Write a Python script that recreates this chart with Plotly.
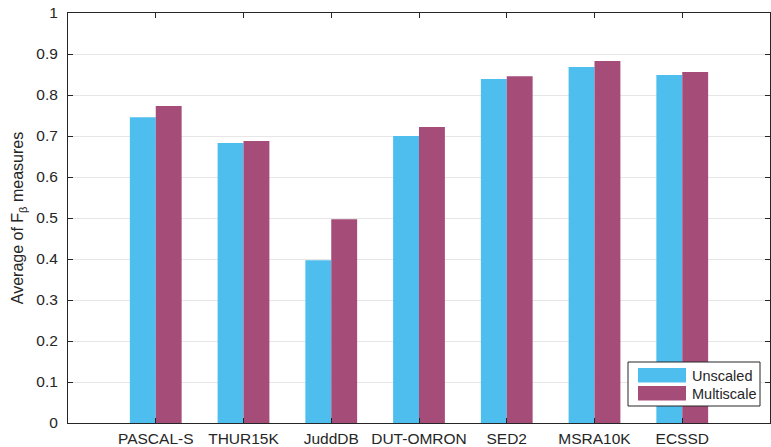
import plotly.graph_objects as go

# Average F-beta per dataset, single-scale vs multi-scale
datasets = ["PASCAL-S", "THUR15K", "JuddDB", "DUT-OMRON", "SED2", "MSRA10K", "ECSSD"]
unscaled = [0.746, 0.683, 0.397, 0.700, 0.839, 0.868, 0.849]
multiscale = [0.773, 0.688, 0.497, 0.722, 0.846, 0.883, 0.856]
series_names = ["Unscaled", "Multiscale"]
y_ticks = [0, 0.1, 0.2, 0.3, 0.4, 0.5, 0.6, 0.7, 0.8, 0.9, 1]
y_tick_text = ["0", "0.1", "0.2", "0.3", "0.4", "0.5", "0.6", "0.7", "0.8", "0.9", "1"]

BLUE = "#4DBEEE"
PLUM = "#A54C78"
INK = "#262626"
FONT = "Liberation Sans, Arial, Helvetica, sans-serif"

positions = list(range(1, len(datasets) + 1))

fig = go.Figure()
fig.add_trace(go.Bar(x=positions, y=unscaled, name=series_names[0],
                     marker=dict(color=BLUE, line=dict(width=0))))
fig.add_trace(go.Bar(x=positions, y=multiscale, name=series_names[1],
                     marker=dict(color=PLUM, line=dict(width=0))))

W, H = 771, 447
L, R, T, B = 68, 1, 13, 24
pw, ph = W - L - R, H - T - B


def px(x):
    return (x - L) / pw


def py(y):
    return (H - B - y) / ph


# Boxed legend with wide colour swatches
fig.add_shape(type="rect", xref="paper", yref="paper",
              x0=px(628), x1=px(760), y0=py(406), y1=py(362),
              line=dict(color=INK, width=1), fillcolor="white", layer="above")
for i, (name, col) in enumerate(zip(series_names, [BLUE, PLUM])):
    top = 368 + i * 18
    fig.add_shape(type="rect", xref="paper", yref="paper",
                  x0=px(638), x1=px(686), y0=py(top + 14.5), y1=py(top),
                  line=dict(width=0), fillcolor=col, layer="above")
    fig.add_annotation(xref="paper", yref="paper", x=px(690), y=py(top + 7.5),
                       text=name, showarrow=False, xanchor="left", yanchor="middle",
                       font=dict(family=FONT, size=14.5, color=INK))

fig.update_layout(
    width=W, height=H,
    margin=dict(l=L, r=R, t=T, b=B, autoexpand=False),
    plot_bgcolor="white", paper_bgcolor="white",
    barmode="group", bargap=0.41, bargroupgap=0,
    showlegend=False,
    font=dict(family=FONT, size=15.5, color=INK),
)
fig.update_xaxes(
    range=[0, 8], tickvals=positions, ticktext=datasets,
    showline=True, linecolor=INK, linewidth=1, mirror="ticks",
    ticks="inside", ticklen=5, tickcolor=INK,
    showgrid=False, zeroline=False, ticklabelstandoff=1, automargin=False,
    tickfont=dict(family=FONT, size=15.5, color=INK),
)
fig.update_yaxes(
    range=[0, 1], tickvals=y_ticks, ticktext=y_tick_text,
    showline=True, linecolor=INK, linewidth=1, mirror="ticks",
    ticks="inside", ticklen=5, tickcolor=INK,
    showgrid=True, gridcolor="#E6E6E6", gridwidth=1, zeroline=False,
    ticklabelstandoff=6, automargin=False,
    tickfont=dict(family=FONT, size=15.5, color=INK),
    title=dict(text="Average of F<sub>\u03b2</sub> measures", standoff=8,
               font=dict(family=FONT, size=16, color=INK)),
)

fig.write_html("out.html")
